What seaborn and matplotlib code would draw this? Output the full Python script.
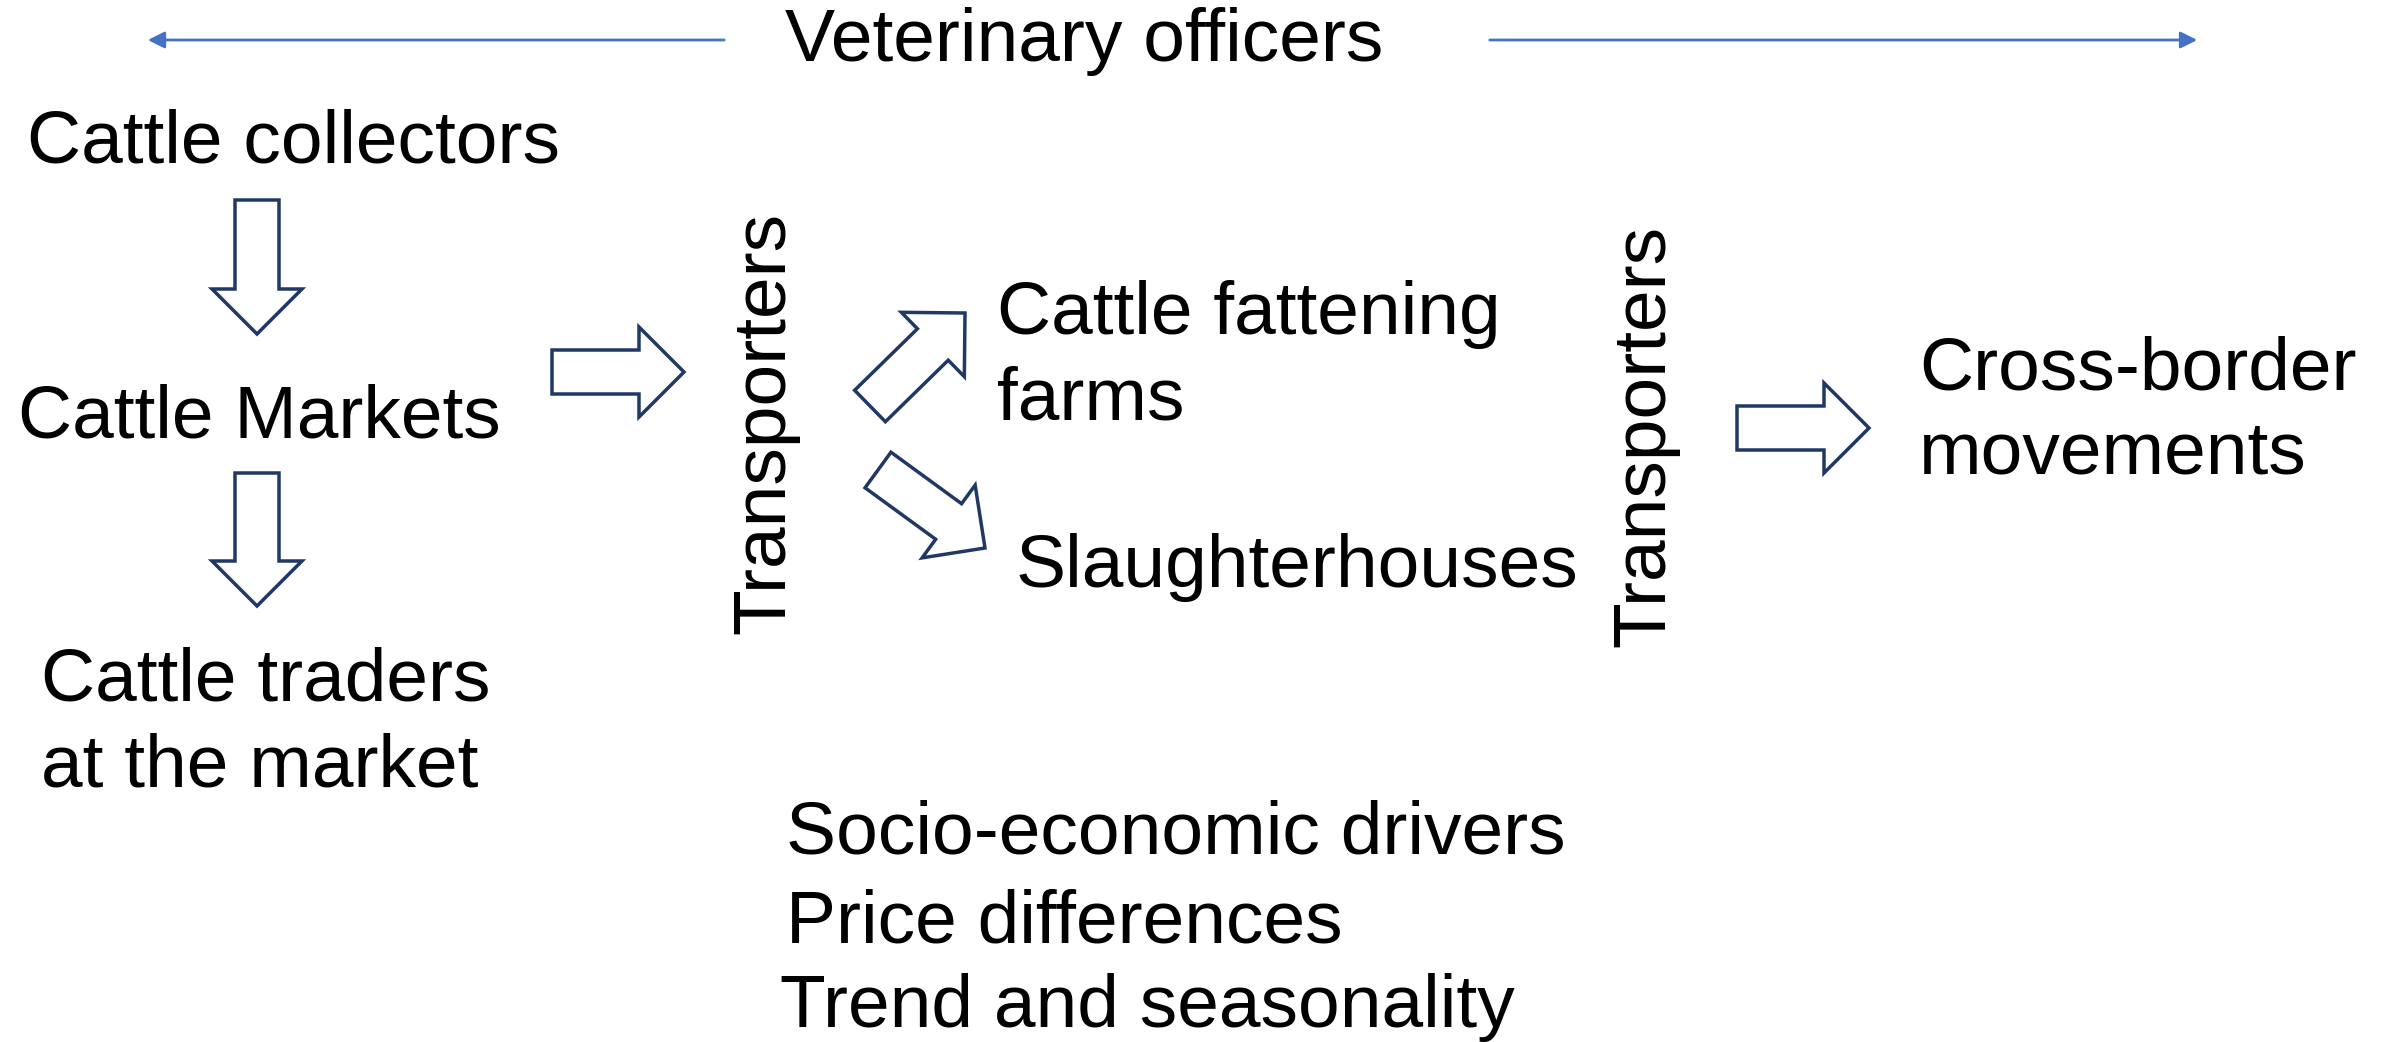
import matplotlib
matplotlib.use("Agg")
import matplotlib.pyplot as plt
import seaborn as sns
from matplotlib.patches import FancyArrow

# labels of the diagram
header = "Veterinary officers"
left_chain = ["Cattle collectors", "Cattle Markets", "Cattle traders\nat the market"]
transport = "Transporters"
destinations = ["Cattle fattening\nfarms", "Slaughterhouses"]
final = "Cross-border\nmovements"
drivers = ["Socio-economic drivers", "Price differences", "Trend and seasonality"]

# layout in pixel coords (origin top-left)
left_xy = [(27, 143), (18, 418), (41, 724)]
dest_xy = [(997, 357), (1016, 567)]
drivers_xy = [(786, 834), (786, 923), (780, 1008)]
# hollow arrows: tail centre, tip
block_arrows = [((257, 200), (257, 334)), ((257, 473), (257, 606)),
                ((552, 372), (684, 372)), ((870, 406), (965, 313)),
                ((878, 470), (985, 548)), ((1737, 428), (1869, 428))]

sns.set_theme(style="white")
plt.rcParams['font.family'] = ['Liberation Sans', 'DejaVu Sans']

W, H = 2384, 1042
fig = plt.figure(figsize=(W / 100, H / 100), dpi=100)
ax = fig.add_axes([0, 0, 1, 1])
ax.set_xlim(0, W)
ax.set_ylim(H, 0)
ax.axis('off')

fs = 54
blue = '#4472C4'
navy = '#1F3864'
txt = dict(fontsize=fs, color='black', linespacing=1.3)

# top thin arrows with header
ax.text(1084, 42, header, ha='center', va='center', **txt)
ax.annotate('', xy=(145, 40), xytext=(727, 40),
            arrowprops=dict(arrowstyle='-|>', color=blue, lw=2, mutation_scale=25))
ax.annotate('', xy=(2200, 40), xytext=(1487, 40),
            arrowprops=dict(arrowstyle='-|>', color=blue, lw=2, mutation_scale=25))

for lab, (x, y) in zip(left_chain, left_xy):
    ax.text(x, y, lab, ha='left', va='center', **txt)

ax.text(765, 423, transport, rotation=90, ha='center', va='center', **txt)
ax.text(1645, 436, transport, rotation=90, ha='center', va='center', **txt)

for lab, (x, y) in zip(destinations, dest_xy):
    ax.text(x, y, lab, ha='left', va='center', **txt)

ax.text(1919, 412, final, ha='left', va='center', **dict(txt, linespacing=1.26))

for lab, (x, y) in zip(drivers, drivers_xy):
    ax.text(x, y, lab, ha='left', va='center', **txt)

for (x0, y0), (x1, y1) in block_arrows:
    ax.add_patch(FancyArrow(x0, y0, x1 - x0, y1 - y0, width=44, head_width=90,
                            head_length=45, length_includes_head=True,
                            facecolor='white', edgecolor=navy, lw=2.5))

fig.savefig('out.png', dpi=100)
